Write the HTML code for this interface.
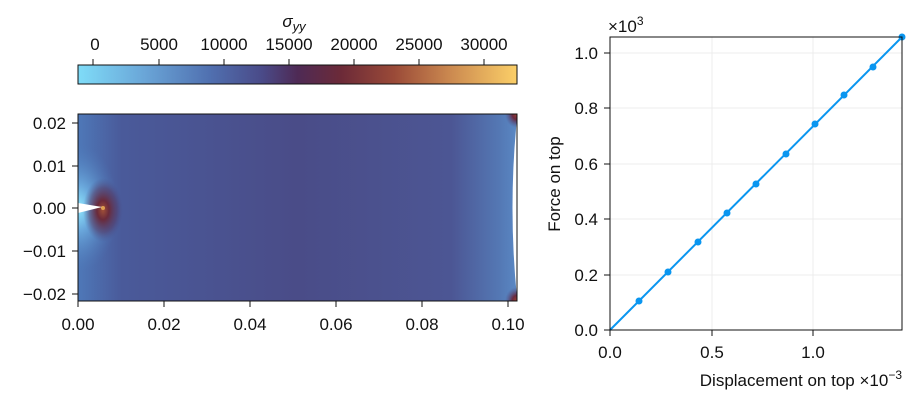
<!DOCTYPE html>
<html><head><meta charset="utf-8"><style>
body{margin:0;background:#fff;width:917px;height:402px;overflow:hidden}
text{font-family:"Liberation Sans","DejaVu Sans",sans-serif;font-size:17px;fill:#111}
</style></head><body>
<svg width="917" height="402" xmlns="http://www.w3.org/2000/svg">
<defs>
<linearGradient id="cb" x1="0" x2="1" y1="0" y2="0">
<stop offset="0" stop-color="#7fdcf8"/>
<stop offset="0.15" stop-color="#6aa6d8"/>
<stop offset="0.3" stop-color="#5070b0"/>
<stop offset="0.42" stop-color="#4a4a88"/>
<stop offset="0.5" stop-color="#4e2a55"/>
<stop offset="0.6" stop-color="#6c2a38"/>
<stop offset="0.72" stop-color="#9a4a38"/>
<stop offset="0.85" stop-color="#cc8a50"/>
<stop offset="1" stop-color="#fbcf68"/>
</linearGradient>
<linearGradient id="hm" x1="0" x2="1" y1="0" y2="0">
<stop offset="0" stop-color="#4e78b8"/>
<stop offset="0.1" stop-color="#4a5a9a"/>
<stop offset="0.5" stop-color="#4a4c88"/>
<stop offset="0.85" stop-color="#4c5694"/>
<stop offset="0.96" stop-color="#5478b4"/>
<stop offset="1" stop-color="#5a88c4"/>
</linearGradient>
<radialGradient id="tipB" cx="0.5" cy="0.5" r="0.5">
<stop offset="0" stop-color="#90e8ff"/>
<stop offset="0.35" stop-color="#6aa8dc"/>
<stop offset="1" stop-color="#4e78b8" stop-opacity="0"/>
</radialGradient>
<radialGradient id="tipR" cx="0.5" cy="0.5" r="0.5">
<stop offset="0" stop-color="#a05038"/>
<stop offset="0.3" stop-color="#6a2a3a"/>
<stop offset="0.7" stop-color="#553058" stop-opacity="0.5"/>
<stop offset="1" stop-color="#4a4c88" stop-opacity="0"/>
</radialGradient>
<radialGradient id="corn" cx="0.5" cy="0.5" r="0.5">
<stop offset="0" stop-color="#a04030"/>
<stop offset="0.4" stop-color="#6a2a40"/>
<stop offset="1" stop-color="#4a4c88" stop-opacity="0"/>
</radialGradient>
<clipPath id="hc"><rect x="78" y="114" width="439" height="187"/></clipPath>
</defs>
<rect x="78" y="65" width="439" height="19" fill="url(#cb)" stroke="#111" stroke-width="1"/>
<g stroke="#111">
<line x1="93" y1="59" x2="93" y2="65"/><line x1="159" y1="59" x2="159" y2="65"/><line x1="224" y1="59" x2="224" y2="65"/><line x1="289" y1="59" x2="289" y2="65"/><line x1="354" y1="59" x2="354" y2="65"/><line x1="419" y1="59" x2="419" y2="65"/><line x1="484" y1="59" x2="484" y2="65"/>
</g>
<g text-anchor="middle">
<text x="95" y="50">0</text><text x="159" y="50">5000</text><text x="224" y="50">10000</text><text x="289" y="50">15000</text><text x="354" y="50">20000</text><text x="419" y="50">25000</text><text x="484" y="50">30000</text>
<text x="294" y="27" font-style="italic">σ<tspan font-size="13" dy="4">yy</tspan></text>
</g>
<g clip-path="url(#hc)">
<rect x="78" y="114" width="439" height="187" fill="url(#hm)"/>
<ellipse cx="78" cy="208" rx="40" ry="65" fill="url(#tipB)"/>
<ellipse cx="103" cy="210" rx="20" ry="32" fill="url(#tipR)"/>
<circle cx="103" cy="208" r="2" fill="#e0a050"/>
<path d="M78 203 L102 207 L78 213 Z" fill="#fff"/>
<ellipse cx="517" cy="114" rx="12" ry="14" fill="url(#corn)"/>
<ellipse cx="517" cy="301" rx="12" ry="14" fill="url(#corn)"/>
<path d="M517 118 Q508 208 517 298 L517 118 Z" fill="#fff"/>
</g>
<rect x="78" y="114" width="439" height="187" fill="none" stroke="#111"/>
<g stroke="#111">
<line x1="72" y1="123" x2="78" y2="123"/><line x1="72" y1="166" x2="78" y2="166"/><line x1="72" y1="208" x2="78" y2="208"/><line x1="72" y1="251" x2="78" y2="251"/><line x1="72" y1="294" x2="78" y2="294"/>
<line x1="78" y1="301" x2="78" y2="307"/><line x1="164" y1="301" x2="164" y2="307"/><line x1="250" y1="301" x2="250" y2="307"/><line x1="336" y1="301" x2="336" y2="307"/><line x1="422" y1="301" x2="422" y2="307"/><line x1="508" y1="301" x2="508" y2="307"/>
</g>
<g text-anchor="end">
<text x="66" y="129">0.02</text><text x="66" y="172">0.01</text><text x="66" y="214">0.00</text><text x="66" y="257">−0.01</text><text x="66" y="300">−0.02</text>
</g>
<g text-anchor="middle">
<text x="78" y="330">0.00</text><text x="164" y="330">0.02</text><text x="250" y="330">0.04</text><text x="336" y="330">0.06</text><text x="422" y="330">0.08</text><text x="508" y="330">0.10</text>
</g>
<g stroke="#ececec">
<line x1="712" y1="37" x2="712" y2="330"/><line x1="813" y1="37" x2="813" y2="330"/>
<line x1="610" y1="275" x2="902" y2="275"/><line x1="610" y1="219" x2="902" y2="219"/><line x1="610" y1="164" x2="902" y2="164"/><line x1="610" y1="108" x2="902" y2="108"/><line x1="610" y1="53" x2="902" y2="53"/>
</g>
<polyline points="610,330 902,37" stroke="#0a96f0" stroke-width="2" fill="none"/>
<g fill="#0a96f0">
<circle cx="639" cy="301" r="3.5"/><circle cx="668" cy="272" r="3.5"/><circle cx="698" cy="242" r="3.5"/><circle cx="727" cy="213" r="3.5"/><circle cx="756" cy="184" r="3.5"/><circle cx="786" cy="154" r="3.5"/><circle cx="815" cy="124" r="3.5"/><circle cx="844" cy="95" r="3.5"/><circle cx="873" cy="67" r="3.5"/><circle cx="902" cy="37" r="3.5"/>
</g>
<rect x="610" y="37" width="292" height="293" fill="none" stroke="#111"/>
<g stroke="#111">
<line x1="604" y1="330" x2="610" y2="330"/><line x1="604" y1="275" x2="610" y2="275"/><line x1="604" y1="219" x2="610" y2="219"/><line x1="604" y1="164" x2="610" y2="164"/><line x1="604" y1="108" x2="610" y2="108"/><line x1="604" y1="53" x2="610" y2="53"/>
<line x1="610" y1="330" x2="610" y2="336"/><line x1="712" y1="330" x2="712" y2="336"/><line x1="813" y1="330" x2="813" y2="336"/>
</g>
<g text-anchor="end">
<text x="598" y="336">0.0</text><text x="598" y="281">0.2</text><text x="598" y="225">0.4</text><text x="598" y="170">0.6</text><text x="598" y="114">0.8</text><text x="598" y="59">1.0</text>
</g>
<g text-anchor="middle">
<text x="610" y="358">0.0</text><text x="712" y="358">0.5</text><text x="813" y="358">1.0</text>
</g>
<text x="608" y="32">×10<tspan font-size="12" dy="-7">3</tspan></text>
<text x="902" y="386" text-anchor="end" font-size="18">Displacement on top ×10<tspan font-size="12" dy="-7">−3</tspan></text>
<text transform="translate(560,184) rotate(-90)" text-anchor="middle" font-size="18">Force on top</text>
</svg>
</body></html>
